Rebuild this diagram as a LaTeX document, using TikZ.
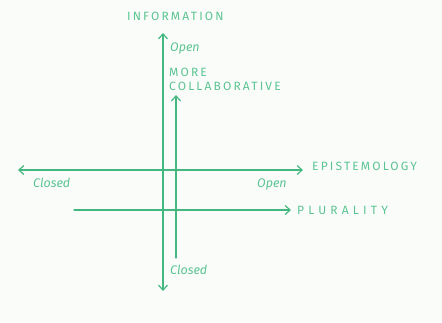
\documentclass[tikz,border=0pt]{standalone}
\usepackage{fontspec}
\setmainfont{Fira Sans}
\usetikzlibrary{arrows.meta}
\definecolor{pen}{RGB}{66,184,128}
\definecolor{penlight}{RGB}{92,196,146}
\definecolor{paper}{RGB}{250,252,250}
\tikzset{
  axis/.style={draw=pen, line width=1.3pt, line cap=round},
  tip/.style={-{Straight Barb[length=5pt,width=9pt,line width=1.2pt]}},
  bothtips/.style={{Straight Barb[length=5pt,width=9pt,line width=1.2pt]}-{Straight Barb[length=5pt,width=9pt,line width=1.2pt]}},
  caps/.style={text=penlight, font=\fontsize{12}{14}\selectfont\addfontfeatures{LetterSpace=18}, inner sep=0pt, anchor=west},
  small/.style={text=penlight, font=\fontsize{12.5}{15}\selectfont\itshape, inner sep=0pt, anchor=west}
}
\begin{document}
\begin{tikzpicture}[x=1pt,y=-1pt]
\fill[paper] (0,0) rectangle (442,322);
\useasboundingbox (0,0) rectangle (442,322);
% coordinates
\coordinate (vtop) at (163,33);
\coordinate (vbot) at (163,291);
\coordinate (wtop) at (176,95);
\coordinate (wbot) at (176,258);
\coordinate (hleft) at (18,170);
\coordinate (hright) at (303,170);
\coordinate (pleft) at (74,210);
\coordinate (pright) at (291,210);
% axes
\draw[axis,bothtips] (vbot) -- (vtop);
\draw[axis,tip] (wbot) -- (wtop);
\draw[axis,bothtips] (hleft) -- (hright);
\draw[axis,tip] (pleft) -- (pright);
% labels
\node[caps] (info) at (127,16) {INFORMATION};
\node[small] (open1) at (170,48) {Open};
\node[caps, align=left, anchor=north west, font=\fontsize{12}{14}\selectfont\addfontfeatures{LetterSpace=18}] (collab) at (169,68) {MORE\\COLLABORATIVE};
\node[caps] (epist) at (312,166) {EPISTEMOLOGY};
\node[small] (closed1) at (33,183) {Closed};
\node[small] (open2) at (257,184) {Open};
\node[caps, font=\fontsize{12}{14}\selectfont\addfontfeatures{LetterSpace=35}] (plur) at (297,210) {PLURALITY};
\node[small] (closed2) at (170,270) {Closed};
\end{tikzpicture}
\end{document}
